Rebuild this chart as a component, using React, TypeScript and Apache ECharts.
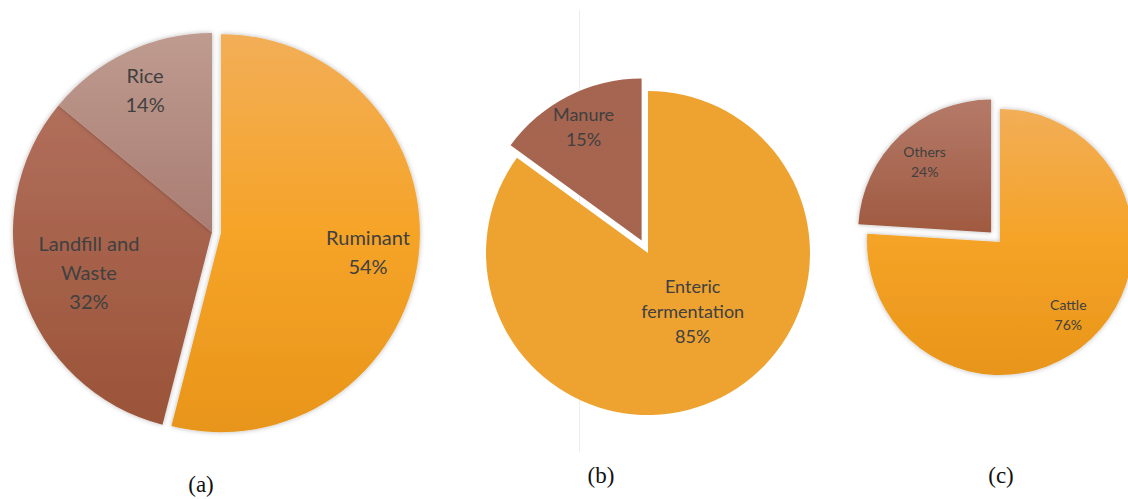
import React, { useEffect, useRef } from "react";
import * as echarts from "echarts";

// ---- data ----
const methaneNames = ["Ruminant", "Landfill and\nWaste", "Rice"];
const methaneValues = [54, 32, 14];

const ruminantNames = ["Enteric\nfermentation", "Manure"];
const ruminantValues = [85, 15];

const entericNames = ["Cattle", "Others"];
const entericValues = [76, 24];

const captions = ["(a)", "(b)", "(c)"];

// ---- layout / style (not data) ----
type PieCfg = {
  names: string[];
  values: number[];
  cx: number;
  cy: number;
  r: number;
  exploded: number[];
  offset: number;
  fontSize: number;
  lineHeight: number;
  labelPlace: [number, number][]; // [radius ratio, angle shift deg]
  colors: [number, string][][];
  shadow: boolean;
};

const pies: PieCfg[] = [
  {
    names: methaneNames,
    values: methaneValues,
    cx: 212,
    cy: 232,
    r: 199,
    exploded: [0],
    offset: 9,
    fontSize: 20,
    lineHeight: 29,
    labelPlace: [
      [0.745, 0],
      [0.65, 0],
      [0.79, 0],
    ],
    colors: [
      [[0, "#F2AE57"], [0.5, "#F6A428"], [1, "#E8951A"]],
      [[0, "#B67664"], [0.5, "#A8634D"], [1, "#9A5337"]],
      [[0, "#BF9B8F"], [0.5, "#A97D73"], [1, "#985F55"]],
    ],
    shadow: true,
  },
  {
    names: ruminantNames,
    values: ruminantValues,
    cx: 648,
    cy: 253,
    r: 162,
    exploded: [1],
    offset: 14,
    fontSize: 18,
    lineHeight: 25,
    labelPlace: [
      [0.45, -10.8],
      [0.79, 0],
    ],
    colors: [
      [[0, "#EEA331"], [1, "#EEA331"]],
      [[0, "#A66550"], [1, "#A5634C"]],
    ],
    shadow: false,
  },
  {
    names: entericNames,
    values: entericValues,
    cx: 1000,
    cy: 242,
    r: 133,
    exploded: [1],
    offset: 13,
    fontSize: 14,
    lineHeight: 20,
    labelPlace: [
      [0.75, 0],
      [0.73, 0],
    ],
    colors: [
      [[0, "#F2AE57"], [0.5, "#F5A326"], [1, "#E8951A"]],
      [[0, "#B37866"], [0.5, "#9E573D"], [1, "#8E4A30"]],
    ],
    shadow: true,
  },
];

const captionPos: [number, number][] = [
  [201, 484],
  [601, 475],
  [1001, 475],
];

function midAngle(values: number[], i: number): number {
  const total = values.reduce((a, b) => a + b, 0);
  let before = 0;
  for (let j = 0; j < i; j++) before += values[j];
  return ((before + values[i] / 2) / total) * 360;
}

// One series for the slices that stay in place, and one per exploded slice,
// whose centre is moved outwards along the slice's mid angle.
function buildSeries(p: PieCfg) {
  const groups: number[][] = [
    p.values.map((_, i) => i).filter((i) => !p.exploded.includes(i)),
    ...p.exploded.map((i) => [i]),
  ];
  return groups.map((members, g) => {
    let cx = p.cx;
    let cy = p.cy;
    if (g > 0) {
      const a0 = (midAngle(p.values, members[0]) * Math.PI) / 180;
      cx += Math.sin(a0) * p.offset;
      cy -= Math.cos(a0) * p.offset;
    }
    return {
      type: "pie",
      center: [cx, cy],
      radius: p.r,
      startAngle: 90,
      clockwise: true,
      silent: true,
      avoidLabelOverlap: false,
      z: g,
      label: {
        show: true,
        position: "inside",
        formatter: "{b}\n{c}%",
        color: "#404040",
        fontFamily: "Lato",
        fontSize: p.fontSize,
        lineHeight: p.lineHeight,
        align: "center",
      },
      labelLine: { show: false },
      labelLayout: (params: any) => {
        const i = params.dataIndex;
        const [ratio, shift] = p.labelPlace[i];
        const a = ((midAngle(p.values, i) + shift) * Math.PI) / 180;
        return {
          x: cx + Math.sin(a) * ratio * p.r,
          y: cy - Math.cos(a) * ratio * p.r,
          align: "center",
          verticalAlign: "middle",
        };
      },
      data: p.names.map((name, i) => {
        const own = members.includes(i);
        return {
          name,
          value: p.values[i],
          label: { show: own },
          itemStyle: own
            ? {
                color: new echarts.graphic.LinearGradient(
                  0,
                  p.cy - p.r,
                  0,
                  p.cy + p.r,
                  p.colors[i].map(([offset, color]) => ({ offset, color })),
                  true
                ),
                borderWidth: 0,
                shadowBlur: p.shadow ? 5 : 0,
                shadowColor: "rgba(0,0,0,0.28)",
              }
            : { color: "rgba(0,0,0,0)", borderWidth: 0, shadowBlur: 0 },
        };
      }),
    };
  });
}

export default function App() {
  const ref = useRef<HTMLDivElement>(null);

  useEffect(() => {
    if (!ref.current) return;
    const chart = echarts.init(ref.current, null, { renderer: "svg" });

    const series = pies.flatMap((p) => buildSeries(p));

    chart.setOption({
      animation: false,
      backgroundColor: "#ffffff",
      series,
      graphic: [
        {
          type: "line",
          silent: true,
          shape: { x1: 579.5, y1: 10, x2: 579.5, y2: 452 },
          style: { stroke: "#ededed", lineWidth: 1 },
          z: -1,
        },
        ...captions.map((t, i) => ({
          type: "text",
          silent: true,
          x: captionPos[i][0],
          y: captionPos[i][1],
          style: {
            text: t,
            font: '23px "Liberation Serif", "Times New Roman", serif',
            fill: "#111111",
            align: "center",
            verticalAlign: "middle",
          },
        })),
      ],
    });

    return () => chart.dispose();
  }, []);

  return (
    <div
      ref={ref}
      style={{ position: "fixed", left: 0, top: 0, width: 1128, height: 499 }}
    />
  );
}
